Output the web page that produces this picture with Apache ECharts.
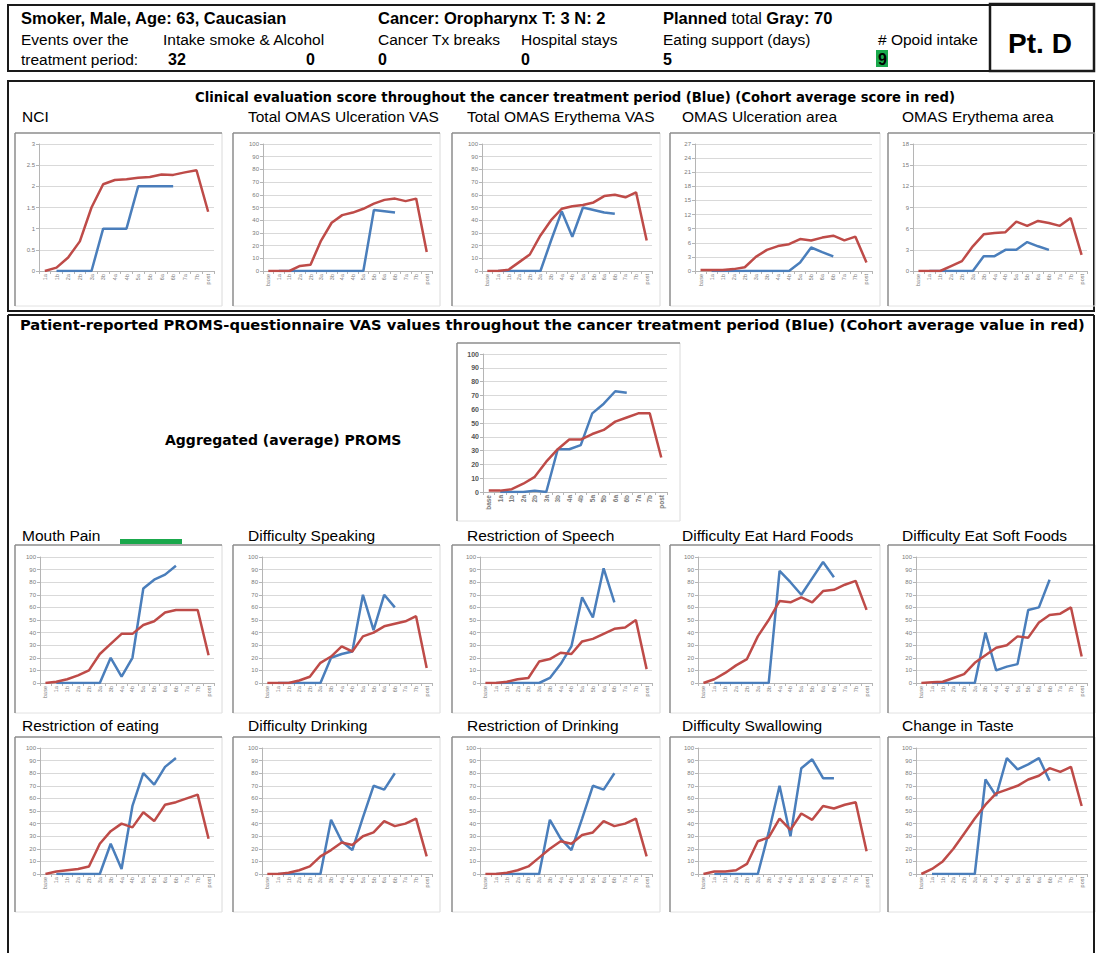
<!DOCTYPE html>
<html>
<head>
<meta charset="utf-8">
<script src="https://cdn.jsdelivr.net/npm/echarts@6/dist/echarts.min.js"></script>
<style>
html, body { margin: 0; padding: 0; background: #fff; }
#main { width: 1096px; height: 953px; }
</style>
</head>
<body>
<div id="main"></div>
<script>
// Treatment stages (weeks a/b), baseline and post-treatment
const stages = ['base', '1a', '1b', '2a', '2b', '3a', '3b', '4a', '4b', '5a', '5b', '6a', '6b', '7a', '7b', 'post'];
const nciStages = stages.slice(1);

// Clinical evaluation scores: patient (blue) and cohort average (red)
const nciPatient = [null, 0, 0, 0, 0, 1, 1, 1, 2, 2, 2, 2];
const nciCohort = [0, 0.08, 0.32, 0.7, 1.5, 2.05, 2.15, 2.17, 2.2, 2.22, 2.28, 2.27, 2.33, 2.38, 1.4];
const ulcVasPatient = [null, 0, 0, 0, 0, 0, 0, 0, 0, 0, 48, 47, 46];
const ulcVasCohort = [0, 0, 0, 4, 5, 24, 38, 44, 46, 49, 53, 56, 57, 55, 57, 15];
const eryVasPatient = [null, 0, 0, 0, 0, 0, 24, 47, 27, 50, 48, 46, 45];
const eryVasCohort = [0, 0, 1, 7, 13, 28, 40, 49, 51, 52, 54, 59, 60, 58, 62, 24];
const ulcAreaPatient = [null, 0, 0, 0, 0, 0, 0, 0, 0, 1.8, 5, 4, 3.1];
const ulcAreaCohort = [0.2, 0.2, 0.2, 0.4, 0.8, 3.0, 4.5, 5.3, 5.7, 6.8, 6.5, 7.1, 7.5, 6.5, 7.3, 1.8];
const eryAreaPatient = [null, 0, 0, 0, 0, 0, 2.1, 2.1, 3, 3, 4.1, 3.5, 3];
const eryAreaCohort = [0, 0, 0, 0.7, 1.4, 3.5, 5.2, 5.4, 5.5, 7, 6.4, 7.1, 6.8, 6.4, 7.5, 2.3];

// PROMS questionnaire VAS values: patient (blue) and cohort average (red)
const aggPatient = [null, 0, 0, 0, 1, 0, 31, 31, 34, 57, 64, 73, 72];
const aggCohort = [1, 1, 2, 6, 11, 22, 31, 38, 38, 42, 45, 51, 54, 57, 57, 25];
const painPatient = [null, 0, 0, 0, 0, 0, 20, 5, 20, 75, 82, 86, 93];
const painCohort = [0, 1, 3, 6, 10, 23, 31, 39, 39, 46, 49, 56, 58, 58, 58, 22];
const speakPatient = [null, 0, 0, 0, 0, 0, 20, 23, 25, 70, 42, 70, 60];
const speakCohort = [0, 0, 0, 2, 5, 16, 21, 29, 25, 37, 40, 45, 47, 49, 53, 12];
const speechPatient = [null, 0, 0, 0, 0, 0, 4, 15, 29, 68, 52, 91, 64];
const speechCohort = [0, 0, 1, 3, 4, 17, 19, 24, 23, 33, 35, 39, 43, 44, 50, 11];
const hardPatient = [null, 0, 0, 0, 0, 0, 0, 89, 80, 70, 83, 96, 84];
const hardCohort = [0, 3, 8, 14, 19, 37, 50, 65, 64, 68, 64, 73, 74, 78, 81, 58];
const softPatient = [null, 0, 0, 0, 0, 0, 40, 10, 13, 15, 58, 60, 82];
const softCohort = [0, 0.5, 1, 4, 7, 16, 22, 28, 30, 37, 36, 48, 54, 55, 60, 21];
const eatPatient = [null, 0, 0, 0, 0, 0, 24, 4, 54, 80, 71, 85, 92];
const eatCohort = [0, 2, 3, 4, 6, 24, 34, 40, 37, 49, 42, 55, 57, 60, 63, 28];
const drinkDiffPatient = [null, 0, 0, 0, 0, 0, 43, 26, 19, 45, 70, 67, 80];
const drinkDiffCohort = [0, 0, 1, 3, 6, 14, 19, 25, 23, 30, 33, 42, 38, 40, 44, 14];
const drinkRestrPatient = [null, 0, 0, 0, 0, 0, 43, 28, 19, 44, 70, 67, 80];
const drinkRestrCohort = [0, 0, 1, 3, 6, 13, 20, 26, 24, 31, 33, 42, 38, 40, 44, 14];
const swallowPatient = [null, 0, 0, 0, 0, 0, 33, 70, 30, 84, 91, 76, 76];
const swallowCohort = [0, 2, 2, 3, 8, 26, 29, 44, 35, 48, 43, 54, 52, 55, 57, 18];
const tastePatient = [null, 0, 0, 0, 0, 0, 75, 62, 92, 83, 87, 92, 74];
const tasteCohort = [0, 4, 10, 20, 32, 44, 55, 64, 67, 70, 75, 78, 84, 81, 85, 54];

const BLUE = '#4a7ebb';
const RED = '#be4b48';
const FONT = '"Liberation Sans", Arial, sans-serif';
const WIDE = '"DejaVu Sans", Verdana, sans-serif';

// Panel layout: column frames shared by all rows
const colLeft = [15, 233, 452, 670, 888];
const colRight = [222, 440, 660, 880, 1095];
const titleX = [22, 248, 467, 682, 902];

const panels = [
  // clinical row
  { title: 'NCI', cats: nciStages, patient: nciPatient, cohort: nciCohort, max: 3, step: 0.5, col: 0, row: 'clin', off: 24 },
  { title: 'Total OMAS Ulceration VAS', cats: stages, patient: ulcVasPatient, cohort: ulcVasCohort, max: 100, step: 10, col: 1, row: 'clin', off: 30 },
  { title: 'Total OMAS Erythema VAS', cats: stages, patient: eryVasPatient, cohort: eryVasCohort, max: 100, step: 10, col: 2, row: 'clin', off: 30 },
  { title: 'OMAS Ulceration area', cats: stages, patient: ulcAreaPatient, cohort: ulcAreaCohort, max: 27, step: 3, col: 3, row: 'clin', off: 25 },
  { title: 'OMAS Erythema area', cats: stages, patient: eryAreaPatient, cohort: eryAreaCohort, max: 18, step: 3, col: 4, row: 'clin', off: 25 },
  // PROMS first row
  { title: 'Mouth Pain', cats: stages, patient: painPatient, cohort: painCohort, max: 100, step: 10, col: 0, row: 'p1', off: 25 },
  { title: 'Difficulty Speaking', cats: stages, patient: speakPatient, cohort: speakCohort, max: 100, step: 10, col: 1, row: 'p1', off: 29 },
  { title: 'Restriction of Speech', cats: stages, patient: speechPatient, cohort: speechCohort, max: 100, step: 10, col: 2, row: 'p1', off: 28 },
  { title: 'Difficulty Eat Hard Foods', cats: stages, patient: hardPatient, cohort: hardCohort, max: 100, step: 10, col: 3, row: 'p1', off: 28 },
  { title: 'Difficulty Eat Soft Foods', cats: stages, patient: softPatient, cohort: softCohort, max: 100, step: 10, col: 4, row: 'p1', off: 28 },
  // PROMS second row
  { title: 'Restriction of eating', cats: stages, patient: eatPatient, cohort: eatCohort, max: 100, step: 10, col: 0, row: 'p2', off: 25 },
  { title: 'Difficulty Drinking', cats: stages, patient: drinkDiffPatient, cohort: drinkDiffCohort, max: 100, step: 10, col: 1, row: 'p2', off: 29 },
  { title: 'Restriction of Drinking', cats: stages, patient: drinkRestrPatient, cohort: drinkRestrCohort, max: 100, step: 10, col: 2, row: 'p2', off: 28 },
  { title: 'Difficulty Swallowing', cats: stages, patient: swallowPatient, cohort: swallowCohort, max: 100, step: 10, col: 3, row: 'p2', off: 28 },
  { title: 'Change in Taste', cats: stages, patient: tastePatient, cohort: tasteCohort, max: 100, step: 10, col: 4, row: 'p2', off: 28 }
];

// Vertical geometry of each row
const rows = {
  clin: { titleY: 116, frameTop: 133, frameBottom: 306, gridTop: 144, gridH: 127 },
  p1: { titleY: 535, frameTop: 545, frameBottom: 713, gridTop: 557, gridH: 126 },
  p2: { titleY: 725, frameTop: 737, frameBottom: 912, gridTop: 748, gridH: 126 }
};

const grids = [], xAxes = [], yAxes = [], series = [], graphics = [];

function txt(text, x, y, size, opts) {
  opts = opts || {};
  graphics.push({
    type: 'text', z: 10,
    style: {
      text: text, x: x, y: y,
      font: (opts.bold ? 'bold ' : '') + size + 'px ' + (opts.family || FONT),
      fill: opts.color || '#000',
      align: opts.align || 'left', textAlign: opts.align || 'left',
      verticalAlign: 'middle', textVerticalAlign: 'middle',
      rich: opts.rich
    }
  });
}
function line(x1, y1, x2, y2, color, w) {
  graphics.push({ type: 'line', z: 5, shape: { x1: x1, y1: y1, x2: x2, y2: y2 }, style: { stroke: color, lineWidth: w } });
}
function box(x, y, w, h, color, lw, fill) {
  graphics.push({ type: 'rect', z: 4, shape: { x: x, y: y, width: w, height: h }, style: { stroke: color, lineWidth: lw, fill: fill || 'none' } });
}
function frame(x0, y0, x1, y1) {
  line(x1, y0, x1, y1, '#dadada', 1);
  line(x0, y1, x1, y1, '#e2e2e2', 1);
  line(x0, y0, x1, y0, '#8c8c8c', 1.5);
  line(x0, y0, x0, y1, '#8c8c8c', 1.5);
}

function addChart(p, grid, labelSize, labelBold) {
  const idx = grids.length;
  grids.push(Object.assign({ containLabel: false }, grid));
  xAxes.push({
    type: 'category', gridIndex: idx, data: p.cats, boundaryGap: true,
    axisLine: { lineStyle: { color: '#b5b5b5', width: 1 } },
    axisTick: { show: true, length: 3, lineStyle: { color: '#b5b5b5' } },
    axisLabel: { rotate: 90, interval: 0, fontSize: labelSize - 0.5, color: '#7a7a7a', margin: 3, fontFamily: FONT, fontWeight: labelBold ? 'bold' : 'normal' }
  });
  yAxes.push({
    type: 'value', gridIndex: idx, min: 0, max: p.max, interval: p.step,
    axisLine: { show: true, lineStyle: { color: '#b5b5b5', width: 1 } },
    axisTick: { show: true, length: 3, lineStyle: { color: '#b5b5b5' } },
    splitLine: { lineStyle: { color: '#d9d9d9', width: 1 } },
    axisLabel: { fontSize: labelSize, color: labelBold ? '#555' : '#7a7a7a', margin: 4, fontFamily: FONT, fontWeight: labelBold ? 'bold' : 'normal' }
  });
  series.push({
    type: 'line', xAxisIndex: idx, yAxisIndex: idx, data: p.patient,
    symbol: 'none', smooth: false, lineStyle: { color: BLUE, width: 2.5 }, itemStyle: { color: BLUE }, z: 2
  });
  series.push({
    type: 'line', xAxisIndex: idx, yAxisIndex: idx, data: p.cohort,
    symbol: 'none', smooth: false, lineStyle: { color: RED, width: 2.5 }, itemStyle: { color: RED }, z: 3
  });
}

panels.forEach(function (p) {
  const r = rows[p.row];
  const x0 = colLeft[p.col], x1 = colRight[p.col];
  txt(p.title, titleX[p.col], r.titleY, 15.5);
  frame(x0, r.frameTop, x1, r.frameBottom);
  addChart(p, { left: x0 + p.off, top: r.gridTop, width: (x1 - 8) - (x0 + p.off), height: r.gridH }, 6, false);
});

// Aggregated PROMS chart
frame(457, 343, 680, 521);
addChart({ cats: stages, patient: aggPatient, cohort: aggCohort, max: 100, step: 10 },
  { left: 483, top: 354, width: 184, height: 138 }, 7, true);
txt('Aggregated (average) PROMS', 165, 440, 14, { bold: true, family: WIDE });

// Green marker next to the Mouth Pain title
box(120, 539, 62, 5, '#1aa84c', 0, '#1aa84c');

// Patient header
box(8, 5, 1086, 66, '#1a1a1a', 2);
box(990, 4, 104, 67, '#1a1a1a', 2.5);
txt('Pt. D', 1040, 43, 28, { bold: true, align: 'center' });
txt('Smoker, Male, Age: 63, Caucasian', 21, 18, 16.5, { bold: true });
txt('Cancer: Oropharynx T: 3 N: 2', 378, 18, 16.5, { bold: true });
txt('{b|Planned} total {b|Gray: 70}', 663, 18, 16, { rich: { b: { fontWeight: 'bold', fontSize: 16.5, fontFamily: FONT } } });
txt('Events over the', 21, 39, 15.5);
txt('Intake smoke & Alcohol', 163, 39, 15.5);
txt('Cancer Tx breaks', 378, 39, 15.5);
txt('Hospital stays', 521, 39, 15.5);
txt('Eating support (days)', 663, 39, 15.5);
txt('# Opoid intake', 878, 39, 15.5);
txt('treatment period:', 21, 59, 15.5);
txt('32', 168, 59, 16, { bold: true });
txt('0', 306, 59, 16, { bold: true });
txt('0', 378, 59, 16, { bold: true });
txt('0', 521, 59, 16, { bold: true });
txt('5', 663, 59, 16, { bold: true });
box(876, 50, 12, 17, 'none', 0, '#1aa84c');
txt('9', 878, 59, 16, { bold: true });

// Clinical section
box(8, 81, 1086, 230, '#1a1a1a', 2);
txt('Clinical evaluation score throughout the cancer treatment period (Blue) (Cohort average score in red)', 575, 97, 13.2, { bold: true, align: 'center', family: WIDE });

// PROMS section
line(8, 315, 1094, 315, '#1a1a1a', 2);
line(8, 315, 8, 953, '#1a1a1a', 2);
line(1094, 315, 1094, 953, '#1a1a1a', 2);
txt('Patient-reported PROMS-questionnaire VAS values throughout the cancer treatment period (Blue) (Cohort average value in red)', 20, 324, 14.7, { bold: true, family: WIDE });

const chart = echarts.init(document.getElementById('main'), null, { renderer: 'svg' });
chart.setOption({
  backgroundColor: '#fff',
  animation: false,
  grid: grids,
  xAxis: xAxes,
  yAxis: yAxes,
  series: series,
  graphic: graphics
});
</script>
</body>
</html>
